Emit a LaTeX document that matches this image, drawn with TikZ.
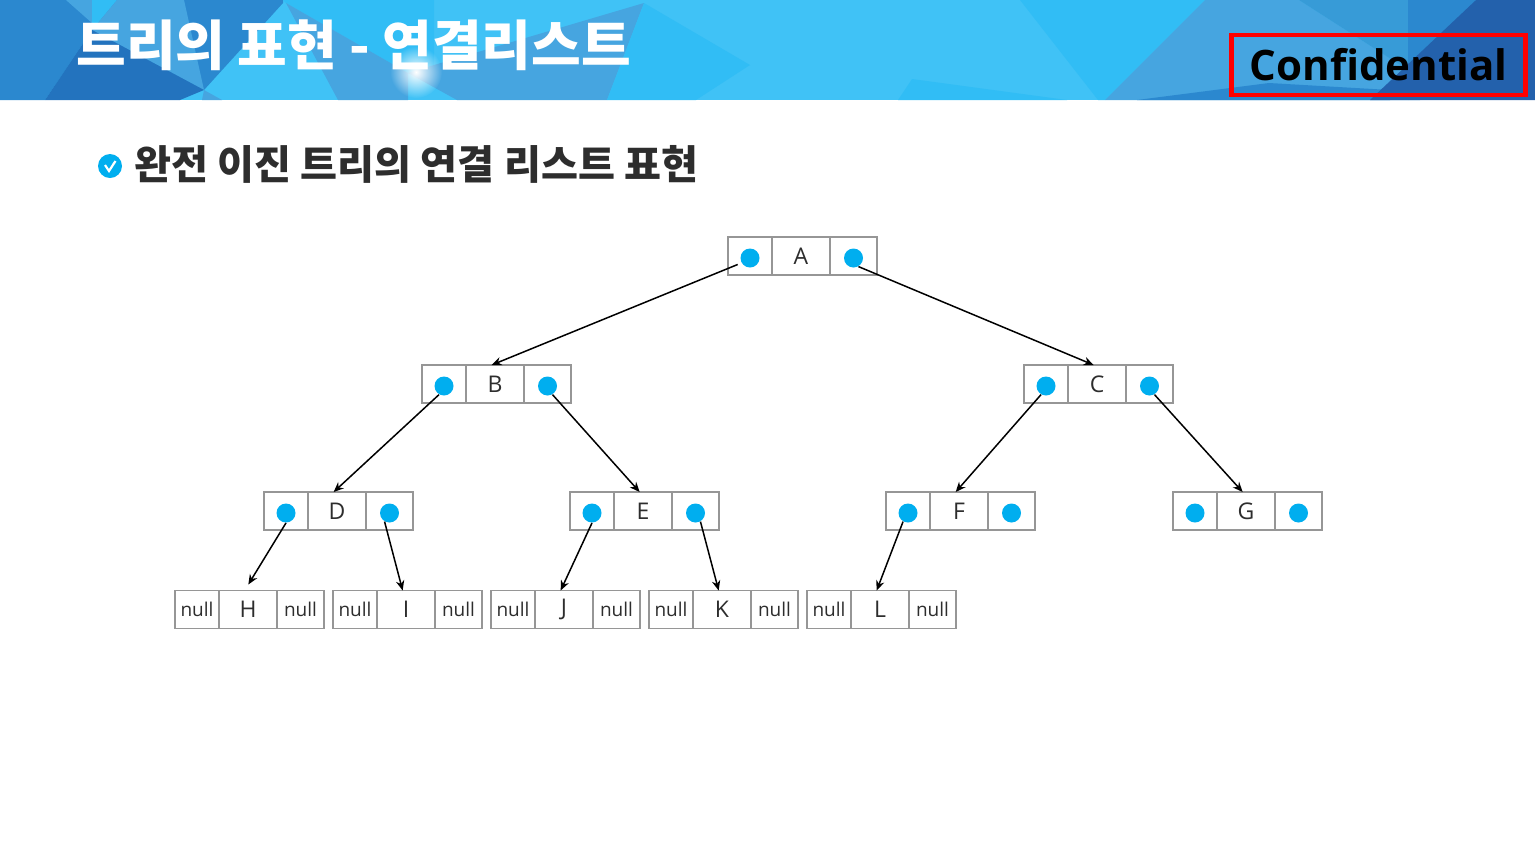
\documentclass[tikz,border=0pt]{standalone}
\usepackage{fontspec}
\usepackage{xcolor}
\setmainfont{Open Sans}
\newfontfamily\krfont{Noto Sans CJK KR}
\usetikzlibrary{positioning, arrows.meta, fadings}
\definecolor{skylight}{RGB}{64, 194, 246}
\definecolor{skycyan}{RGB}{49, 189, 245}
\definecolor{skymid}{RGB}{70, 165, 224}
\definecolor{skysoft}{RGB}{55, 155, 215}
\definecolor{skydeep}{RGB}{43, 136, 207}
\definecolor{skydark}{RGB}{35, 115, 190}
\definecolor{skynavy}{RGB}{35, 97, 172}
\definecolor{dotblue}{RGB}{0, 174, 239}
\definecolor{cellgray}{RGB}{150, 150, 150}
\definecolor{textdark}{RGB}{45, 45, 45}
\tikzfading[name=glowfade, inner color=transparent!0, outer color=transparent!100]

\begin{document}
\begin{tikzpicture}[x=0.5pt, y=-0.5pt,
  midcell/.style={rectangle, draw=cellgray, line width=0.9pt, inner sep=0pt, outer sep=0pt,
                  minimum width=29pt, minimum height=19pt, text=textdark, font=\fontsize{11.5}{12}\selectfont},
  lcell/.style={midcell, minimum width=22pt, font=\fontsize{9.5}{10}\selectfont},
  rcell/.style={midcell, minimum width=23.5pt, font=\fontsize{9.5}{10}\selectfont},
  dot/.style={circle, fill=dotblue, inner sep=0pt, minimum size=9.5pt, yshift=-1pt},
  arr/.style={-{Stealth[length=5pt, width=4.2pt]}, line width=0.75pt, color=black},
  title/.style={font=\krfont\bfseries\fontsize{27}{28}\selectfont, text=white, inner sep=0pt},
  subtitle/.style={font=\krfont\bfseries\fontsize{20.1}{22}\selectfont, text=textdark, inner sep=0pt}
]
  \useasboundingbox (0,0) rectangle (1535,864);

  % Header band
  \fill[skylight] (0,0) rectangle (1535,100);
  \fill[skydeep]  (0,0) -- (283,0) -- (283,3) -- (204,90) -- (92,30) -- (45,100) -- (0,100) -- cycle;
  \fill[skymid]   (66,0) -- (92,23) -- (92,0) -- cycle;
  \fill[skycyan]  (92,0) -- (117,0) -- (92,30) -- cycle;
  \fill[skymid]   (117,0) -- (184,0) -- (204,90) -- (92,30) -- cycle;
  \fill[skydark]  (92,30) -- (204,90) -- (180,100) -- (45,100) -- cycle;
  \fill[skymid]   (204,90) -- (222,100) -- (202,100) -- cycle;
  \fill[skycyan]  (283,0) -- (434,0) -- (434,65) -- (408,73) -- (286,3) -- cycle;
  \fill[skymid]   (286,3) -- (408,73) -- (408,100) -- (338,100) -- cycle;
  \fill[skymid]   (644,3) -- (607,100) -- (457,100) -- (408,73) -- (434,65) -- cycle;
  \fill[skycyan]  (644,3) -- (750,65) -- (696,100) -- (607,100) -- cycle;
  \fill[skycyan]  (1020,0) -- (1205,0) -- (1105,100) -- (1098,100) -- cycle;
  \fill[skycyan]  (912,79) -- (1067,100) -- (898,100) -- cycle;
  \fill[skymid]   (1205,0) -- (1299,0) -- (1408,70) -- (1420,100) -- (1105,100) -- cycle;
  \fill[skysoft]  (1299,0) -- (1408,0) -- (1408,70) -- cycle;
  \fill[skydeep]  (1137,100) -- (1269,83) -- (1390,90) -- (1390,100) -- cycle;
  \fill[skydeep]  (1408,0) -- (1476,0) -- (1408,100) -- cycle;
  \fill[skynavy]  (1476,0) -- (1535,0) -- (1535,100) -- (1370,100) -- cycle;
  \fill[white, path fading=glowfade] (416,72) circle (26);

  % Titles
  \node[title, anchor=west] (head) at (76,45) {트리의 표현 - 연결리스트};
  \node[draw=red, line width=2.2pt, inner sep=0pt, minimum width=147pt, minimum height=30pt,
        font=\bfseries\fontsize{21}{22}\selectfont] (conf) at (1378.5,65) {Confidential};
  \node[circle, fill=dotblue, inner sep=0pt, minimum size=12pt] (bullet) at (110,166) {};
  \draw[white, line width=1.1pt] (105,165) -- (109,171) -- (115.5,161);
  \node[subtitle, anchor=west] (sub) at (134,164.5) {완전 이진 트리의 연결 리스트 표현};

  % Row 1 - root
  \node[midcell]             (a)  at (801,256) {A};
  \node[lcell, left=0pt of a]  (al) {};
  \node[rcell, right=0pt of a] (ar) {};
  \node[dot] (adl) at (al) {};
  \node[dot] (adr) at (ar) {};

  % Row 2
  \node[midcell]             (b)  at (495,384) {B};
  \node[lcell, left=0pt of b]  (bl) {};
  \node[rcell, right=0pt of b] (br) {};
  \node[dot] (bdl) at (bl) {};
  \node[dot] (bdr) at (br) {};

  \node[midcell]             (c)  at (1097,384) {C};
  \node[lcell, left=0pt of c]  (cl) {};
  \node[rcell, right=0pt of c] (cr) {};
  \node[dot] (cdl) at (cl) {};
  \node[dot] (cdr) at (cr) {};

  % Row 3
  \node[midcell]             (d)  at (337,511) {D};
  \node[lcell, left=0pt of d]  (dl) {};
  \node[rcell, right=0pt of d] (dr) {};
  \node[dot] (ddl) at (dl) {};
  \node[dot] (ddr) at (dr) {};

  \node[midcell]             (e)  at (643,511) {E};
  \node[lcell, left=0pt of e]  (el) {};
  \node[rcell, right=0pt of e] (er) {};
  \node[dot] (edl) at (el) {};
  \node[dot] (edr) at (er) {};

  \node[midcell]             (f)  at (959,511) {F};
  \node[lcell, left=0pt of f]  (fl) {};
  \node[rcell, right=0pt of f] (fr) {};
  \node[dot] (fdl) at (fl) {};
  \node[dot] (fdr) at (fr) {};

  \node[midcell]             (g)  at (1246,511) {G};
  \node[lcell, left=0pt of g]  (gl) {};
  \node[rcell, right=0pt of g] (gr) {};
  \node[dot] (gdl) at (gl) {};
  \node[dot] (gdr) at (gr) {};

  % Row 4 - leaves
  \node[midcell]             (h)  at (248,609.5) {H};
  \node[lcell, left=0pt of h]  (hl) {null};
  \node[rcell, right=0pt of h] (hr) {null};

  \node[midcell]             (i)  at (406,609.5) {I};
  \node[lcell, left=0pt of i]  (il) {null};
  \node[rcell, right=0pt of i] (ir) {null};

  \node[midcell]             (j)  at (564,609.5) {J};
  \node[lcell, left=0pt of j]  (jl) {null};
  \node[rcell, right=0pt of j] (jr) {null};

  \node[midcell]             (k)  at (722,609.5) {K};
  \node[lcell, left=0pt of k]  (kl) {null};
  \node[rcell, right=0pt of k] (kr) {null};

  \node[midcell]             (l)  at (880,609.5) {L};
  \node[lcell, left=0pt of l]  (ll) {null};
  \node[rcell, right=0pt of l] (lr) {null};

  % Arrows
  \draw[arr, shorten <=2pt] (adl.210) -- (b.100);
  \draw[arr]                (adr.300) -- (c.100);
  \draw[arr]                (bdl.240) -- (d.100);
  \draw[arr]                (bdr.300) -- (e.100);
  \draw[arr]                (cdl.240) -- (f.100);
  \draw[arr]                (cdr.300) -- (g.100);
  \draw[arr, shorten >=3.5pt] (ddl.south) -- (h.100);
  \draw[arr]                (ddr.240) -- (i.100);
  \draw[arr]                (edl.south) -- (j.100);
  \draw[arr]                (edr.300) -- (k.100);
  \draw[arr]                (fdl.240) -- (l.100);
\end{tikzpicture}
\end{document}
